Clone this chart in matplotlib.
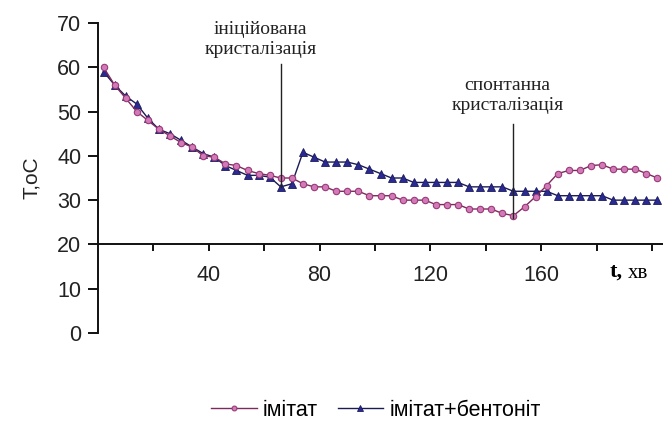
import matplotlib
matplotlib.use("Agg")
import matplotlib.pyplot as plt

# time, min
t = [2, 6, 10, 14, 18, 22, 26, 30, 34, 38, 42, 46, 50, 54, 58, 62, 66, 70, 74, 78, 82,
     86, 90, 94, 98, 102, 106, 110, 114, 118, 122, 126, 130, 134, 138, 142, 146, 150,
     154, 158, 162, 166, 170, 174, 178, 182, 186, 190, 194, 198, 202]

imitat = [60, 56, 53, 50, 48, 46, 44.5, 43, 42, 40, 39.7, 38.2, 37.8, 36.7, 36, 35.6, 35, 35, 33.7, 33, 33,
          32, 32, 32, 31, 31, 31, 30, 30, 30, 29, 29, 29, 28, 28, 28, 27, 26.5,
          28.5, 30.8, 33.3, 36, 36.7, 36.7, 37.8, 38, 37, 37, 37, 36, 35]

imitat_bent = [59, 56, 53.5, 51.7, 48.5, 46, 45, 43.5, 42, 40.5, 39.7, 37.8, 36.7, 35.6, 35.6, 35.2, 33, 33.7, 40.8, 39.7, 38.6,
               38.6, 38.6, 38, 37, 36, 35, 35, 34, 34, 34, 34, 34, 33, 33, 33, 33, 32,
               32, 32, 32, 31, 31, 31, 31, 31, 30, 30, 30, 30, 30]

series_labels = ["імітат", "імітат+бентоніт"]
xtick_pos = [20, 40, 60, 80, 100, 120, 140, 160, 180, 200]
xtick_lbl = ["", "40", "", "80", "", "120", "", "160", "", ""]
ytick_pos = [0, 10, 20, 30, 40, 50, 60, 70]

sans = ["Liberation Sans", "DejaVu Sans"]
serif = ["Liberation Serif", "DejaVu Serif"]

fig = plt.figure(figsize=(6.63, 4.23), dpi=100)
ax = fig.add_axes([98 / 663, 1 - 333 / 423, 565 / 663, 310 / 423])
ax.set_xlim(0, 204)
ax.set_ylim(0, 70)

ax.plot(t, imitat, color="#7a2a5c", lw=1.0, marker="o", ms=4.6,
        mfc="#d27ab8", mec="#9a3a78", mew=0.8, label=series_labels[0], zorder=3)
ax.plot(t, imitat_bent, color="#1a1a55", lw=1.0, marker="^", ms=6,
        mfc="#2a2a90", mec="#1a1a60", mew=0.6, label=series_labels[1], zorder=2)

for s in ["top", "right"]:
    ax.spines[s].set_visible(False)
ax.spines["bottom"].set_position(("data", 20))
for s in ["left", "bottom"]:
    ax.spines[s].set_linewidth(1.4)
    ax.spines[s].set_color("#111111")

ax.set_xticks(xtick_pos)
ax.set_xticklabels(xtick_lbl)
ax.set_yticks(ytick_pos)
ax.tick_params(axis="x", direction="out", length=5, width=1.4, pad=10, labelsize=15.5, colors="#111111")
ax.tick_params(axis="y", direction="out", length=7, width=1.4, pad=5, labelsize=15.5, colors="#111111")
for lbl in ax.get_xticklabels() + ax.get_yticklabels():
    lbl.set_family(sans)
    lbl.set_color("#222222")

ax.set_ylabel("T,oC", fontsize=15, family=sans, labelpad=12, color="#222222")

fig.text(610 / 663, 1 - 272 / 423, "t,", ha="left", va="center", fontsize=16,
         fontweight="bold", family=serif)
fig.text(628 / 663, 1 - 273 / 423, "хв", ha="left", va="center", fontsize=15, family=serif)

# annotations
ax.plot([66, 66], [60.8, 33], color="#222222", lw=1.0, zorder=4)
ax.text(58.7, 66.3, "ініційована\nкристалізація", ha="center", va="center",
        fontsize=14, family=serif, linespacing=1.2, color="#222222")
ax.plot([150, 150], [47.3, 26], color="#222222", lw=1.0, zorder=4)
ax.text(147.8, 53.6, "спонтанна\nкристалізація", ha="center", va="center",
        fontsize=14, family=serif, linespacing=1.2, color="#222222")

leg = fig.legend(loc="center", bbox_to_anchor=(376 / 663, 1 - 410 / 423), ncol=2,
                 frameon=False, handlelength=2.1, handletextpad=0.3,
                 columnspacing=0.9, markerscale=0.75, prop={"family": sans, "size": 15.5})

fig.savefig("out.png", dpi=100)
